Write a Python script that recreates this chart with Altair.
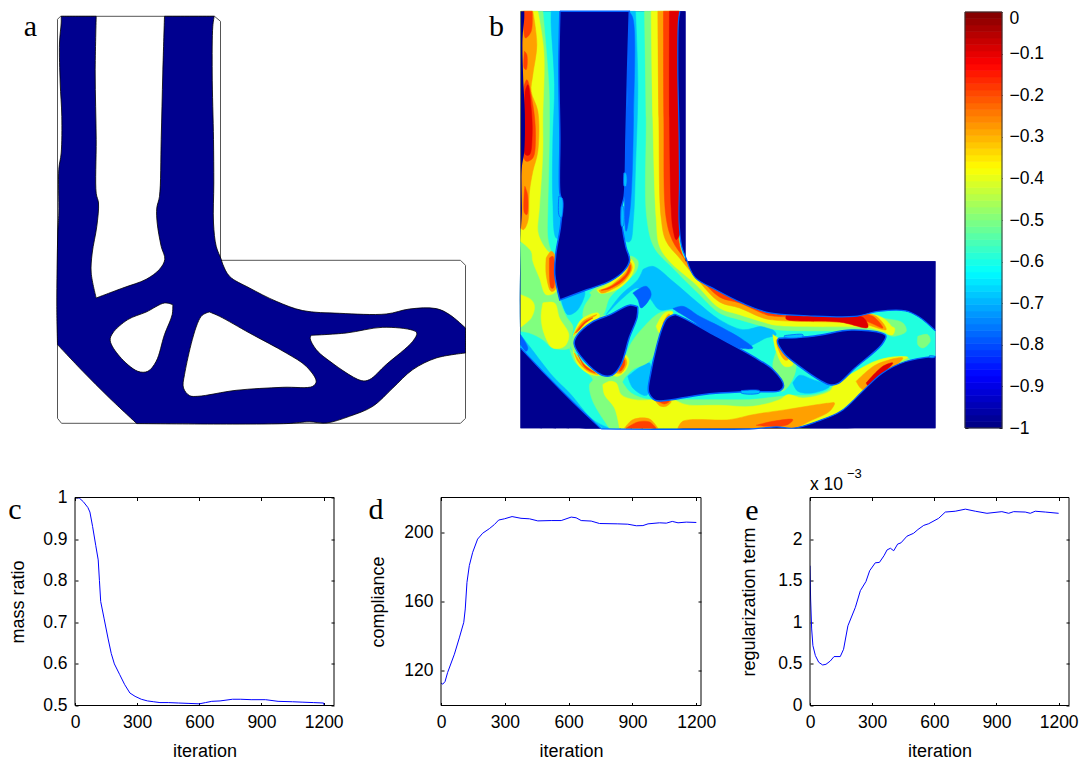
import altair as alt

NAVY = "#00008f"; AQ = "#20ffdf"; LB = "#00bfff"; DB = "#0060ff"; GR = "#80ff7f"
YE = "#efff10"; OR = "#ffa000"; RO = "#ff4000"; RE = "#df0000"
FONT = "Liberation Sans"; SERIF = "Liberation Serif"

# ---------- line panels ----------
ITER_C = [0,20,40,62,72,85,100,112,118,124,140,160,175,190,215,240,265,290,320,350,380,410,450,500,550,600,630,660,700,760,800,850,920,980,1050,1100,1150,1200,1200]
MASS = [1.0,.999,.99,.976,.965,.93,.885,.85,.80,.75,.71,.66,.625,.60,.575,.55,.53,.522,.515,.511,.509,.507,.507,.506,.505,.504,.507,.51,.511,.515,.515,.514,.514,.51,.509,.508,.507,.506,.502]
ITER_D = [0,8,19,31,63,86,107,114,122,133,149,172,196,227,251,271,298,334,376,416,455,518,565,612,635,659,706,745,831,878,918,949,973,1027,1059,1087,1114,1153,1200]
COMPL = [113,112.3,113.8,119,129.6,139,148,155.7,171,180.7,188.4,196,199.4,202,204.4,207,207.7,209,208,207.7,206.5,206.7,206.7,208.7,208.3,206.7,206.4,205,204.8,204.6,203.7,203.8,204.8,205.4,205.2,206.2,205.4,205.8,205.6]
ITER_E = [0,3,8,14,26,42,61,77,98,116,146,162,183,219,243,270,288,315,335,357,372,388,404,423,439,468,500,521,549,573,621,653,701,750,798,854,926,959,983,1039,1063,1087,1136,1200]
REG = [1.68,1.28,.92,.72,.6,.52,.487,.495,.535,.588,.588,.676,.958,1.18,1.38,1.49,1.62,1.715,1.72,1.80,1.87,1.89,1.86,1.94,1.955,2.035,2.07,2.115,2.165,2.185,2.25,2.325,2.335,2.36,2.335,2.31,2.33,2.31,2.33,2.325,2.31,2.335,2.325,2.31]
X_TICKS = [0,300,600,900,1200]

# ---------- panel a outlines, in picture pixels; a third element marks a sharp corner ----------
DOMAIN = [(58,18),(61,15),(215,15),(221,20),(221,259),(461,259),(466,264),(466,417),(461,422),(62,422),(58,417),(58,18)]
A_CHANNEL = [(96.7,15,1),(95.7,71.7),(96.7,138),(96.7,192),(99,201.7),(97.3,225),(92.7,251.7),(91.7,271.7),(96.7,296.7,1),(123.3,286.7),(146.7,278),(160,268),(165.3,258),(161.7,245),(157.7,221.7),(157.3,206.7),(160,195),(161.7,138),(163.3,71.7),(165,15,1)]
A_RIGHT = [(214.7,15,1),(213.3,25),(212.7,71.7),(214,138),(214.3,181.7),(214,221.7),(216.7,245),(221.7,258),(223.3,263),(230,275),(250,286.7),(276.7,300),(303.3,309.3),(340,312),(386.7,312.7),(410,307.7),(436.7,307.3),(450,313.3),(466,326.7,1)]
A_BOTTOM = [(466,351.7,1),(436.7,356.7),(413.3,368.3),(393.3,386.7),(373.3,405),(350,415),(326.7,421.7),(310,420.5),(286.7,422.3),(137.3,422.3,1)]
A_DIAG = [(137.3,422.3,1),(110,396.7),(83.3,370),(58,343.3,1)]
A_LEFT = [(58,343.3,1),(57.3,305),(58.3,231.7),(59.3,211.7),(59.3,168),(61.7,151.7),(62.3,115),(60.7,81.7),(60,41.7),(61.7,21.7),(61.7,15,1)]
HOLE_1 = [(173.3,303.3),(165,301.7),(146.7,310.7),(128.3,318.3),(113.3,331.7),(110.7,339.3),(120,355),(138.3,370),(148.3,370),(156.7,360),(165,333.3),(172.7,313.3)]
HOLE_2 = [(210,310.7),(201.7,315),(185,373.3),(184,386.7),(190,394.3),(198.3,395),(236.7,389),(283.3,386),(313.3,385),(316.7,380),(306.7,365),(286.7,351.7),(250,331.7),(220,315)]
HOLE_3 = [(311.7,334),(346.7,331.7),(383.3,326),(413.3,329),(417.3,331.7),(413.3,340),(386.7,363.3),(370,378.3),(361.7,379.3),(326.7,357.3),(316.7,348.3),(310.7,337.3)]
OUTER = A_LEFT + A_CHANNEL + A_RIGHT + A_BOTTOM + A_DIAG[1:-1]

LIGHT = [
 [(125,-720),(148,-720),(152,-40),(140,-40),(130,-150),(130,-335),(135,-500),(125,-680)],
 [(360,-720),(378,-720),(385,-500),(378,-250),(372,-100),(362,-30),(350,-30),(355,-300),(358,-600)],
 [(400,55),(430,45),(490,90),(560,150),(630,205),(700,235),(760,225),(790,235),(800,250),(770,260),(700,290),(630,265),(560,215),(520,170),(490,172),(450,175),(420,140),(385,110),(340,140),(300,180),(290,190),(335,130),(385,85)],
 [(155,145),(225,120),(205,175),(175,190)],
 [(355,375),(420,335),(412,432),(370,410)],
 [(850,395),(870,372),(910,385),(960,405),(910,425),(865,420)],
 [(33,250),(60,285),(130,375),(180,425),(250,505),(300,531),(280,531),(150,420),(33,300)],
]
DEEP = [
 [(358,-720),(370,-700),(372,-400),(362,-130),(350,-60),(345,-200),(355,-500)],
 [(370,125),(410,105),(425,130),(395,170),(385,145)],
 [(490,172),(520,165),(570,195),(630,225),(700,265),(730,290),(690,290),(620,260),(550,210),(510,185)],
 [(33,250),(55,290),(50,300),(33,280)],
]
GREEN = [
 [(33,-720),(100,-720),(118,-500),(120,-400),(118,-250),(115,-130),(115,-40),(125,0),(140,30),(145,120),(150,145),(170,195),(190,225),(185,262),(180,290),(130,290),(100,265),(60,245),(33,240)],
 [(240,125),(265,105),(345,65),(362,15),(385,28),(380,60),(340,100),(300,140),(280,190),(255,192),(225,205),(220,195),(225,165),(245,130)],
 [(185,262),(215,225),(260,190),(280,190),(300,200),(200,300),(185,290)],
 [(180,290),(240,350),(290,375),(325,375),(340,395),(365,425),(420,445),(540,445),(630,445),(720,445),(815,435),(850,432),(900,432),(950,420),(975,400),(1130,320),(1190,318),(1200,325),(1100,400),(1000,500),(900,531),(300,531),(250,450),(240,400),(250,385),(195,330)],
 [(310,375),(345,320),(365,275),(400,230),(450,185),(490,180),(470,210),(445,280),(420,330),(370,355),(345,380),(335,395)],
 [(405,-720),(510,-720),(515,0),(560,60),(640,105),(780,185),(1060,185),(1120,200),(1180,215),(1190,240),(1150,255),(1125,245),(1060,240),(800,235),(760,225),(690,205),(630,185),(560,120),(490,50),(435,-10),(412,-100),(410,-400)],
 [(1225,255),(1255,250),(1262,270),(1240,290),(1225,280)],
 [(820,260),(860,340),(840,400),(815,420),(790,340)],
]
YELLOW = [
 [(33,-720),(85,-720),(103,-600),(100,-400),(100,-300),(90,-135),(85,-60),(95,-30),(115,0),(135,15),(140,120),(110,130),(90,80),(70,30),(65,0),(33,-30)],
 [(33,130),(65,145),(75,165),(65,200),(33,228)],
 [(100,155),(135,155),(150,200),(178,250),(165,285),(130,290),(105,250),(95,200)],
 [(262,115),(300,95),(350,50),(362,22),(375,40),(365,75),(330,110),(290,125),(270,125)],
 [(190,255),(215,205),(265,185),(270,195),(225,225)],
 [(190,295),(215,330),(270,372),(240,368),(205,340)],
 [(310,372),(345,310),(358,325),(350,355),(325,375)],
 [(440,225),(465,185),(490,183),(465,220),(450,245)],
 [(280,400),(300,390),(320,395),(335,430),(375,445),(440,445),(490,445),(530,460),(630,462),(730,465),(810,445),(835,430),(880,440),(960,420),(975,400),(1030,365),(1110,325),(1195,318),(1130,350),(1060,420),(975,490),(900,527),(900,531),(330,531),(315,470),(285,430)],
 [(790,250),(810,265),(850,340),(825,345),(800,300)],
 [(425,-720),(510,-720),(515,0),(560,60),(640,105),(780,185),(1060,185),(1120,200),(1150,235),(1140,243),(1090,232),(1060,228),(800,222),(760,212),(690,190),(630,170),(560,100),(480,30),(450,-15),(440,-100),(430,-400)],
 [(1130,225),(1155,230),(1150,250),(1130,245)],
]
ORANGE = [
 [(36,-720),(70,-720),(82,-620),(70,-530),(65,-480),(85,-420),(85,-300),(70,-240),(60,-180),(55,-90),(42,-65),(33,-70)],
 [(110,20),(125,0),(135,10),(137,115),(125,120),(110,70)],
 [(268,117),(300,105),(350,60),(362,32),(368,50),(345,90),(300,118),(275,125)],
 [(193,250),(220,210),(262,190),(240,205),(210,230)],
 [(195,305),(220,340),(265,370),(235,360),(205,330)],
 [(320,365),(345,318),(352,335),(335,365)],
 [(460,215),(475,190),(480,188),(465,225)],
 [(437,447),(485,450),(470,465),(450,463)],
 [(345,531),(370,505),(420,503),(445,531)],
 [(505,531),(520,510),(660,505),(730,490),(830,475),(960,455),(975,455),(960,480),(900,510),(860,531)],
 [(445,-720),(510,-720),(515,0),(560,60),(640,105),(780,185),(1050,185),(1100,195),(1130,235),(1060,218),(800,207),(760,200),(690,170),(630,152),(560,80),(510,20),(470,-30),(455,-100),(448,-400)],
 [(1040,390),(1100,340),(1180,320),(1110,380),(1060,415)],
 [(800,265),(815,270),(835,325),(825,325),(805,290)],
]
RED_ORANGE = [
 [(462,-720),(510,-720),(515,0),(560,60),(640,105),(780,185),(1050,187),(1090,195),(1120,230),(1060,207),(800,195),(770,190),(690,155),(630,137),(560,65),(520,15),(490,-30),(470,-100),(463,-400)],
 [(42,-720),(68,-720),(65,-660),(48,-640)],
 [(45,-600),(52,-590),(50,-545),(44,-550)],
 [(42,-490),(52,-515),(70,-440),(78,-350),(70,-280),(50,-270),(42,-285)],
 [(46,-195),(54,-170),(52,-110),(45,-115)],
 [(120,20),(130,15),(132,110),(125,110)],
 [(275,117),(305,105),(350,68),(362,40),(362,58),(340,88),(300,112)],
 [(198,245),(225,212),(250,200),(228,215),(205,240)],
 [(205,310),(225,340),(258,365),(228,350)],
 [(328,360),(345,325),(345,342),(335,358)],
 [(445,450),(480,450),(465,458)],
 [(350,531),(385,512),(420,512),(440,531)],
 [(740,522),(790,510),(850,505),(835,520),(780,525)],
]
RED = [
 [(480,-720),(508,-720),(510,-100),(510,-50),(500,-35),(490,-70),(485,-130),(480,-400)],
 [(830,193),(990,197),(1060,198),(1075,228),(990,212),(830,203)],
 [(47,-480),(55,-500),(65,-430),(68,-350),(60,-290),(48,-290)],
 [(1070,395),(1120,345),(1150,335),(1110,375),(1075,402)],
]
FLECKS = [
 [(148,-165),(158,-160),(160,-120),(155,-100),(148,-110)],
 [(343,-235),(350,-235),(350,-195),(344,-195)],
 [(335,-135),(341,-135),(341,-75),(336,-75)],
 [(825,253),(880,250),(880,256),(825,258)],
 [(695,418),(750,418),(750,425),(695,425)],
 [(1260,313),(1275,315),(1275,318),(1260,318)],
]
B_DOMAIN = [(521,10),(686,10),(686,260),(936,260),(936,427),(521,427),(521,10)]
LETTERS_TOP = [("a",31,26),("b",497,26)]

# ---------- colour bar ----------
def jet(i, n=64):
    v = (i + 0.5) / n
    f = lambda c: max(0.0, min(1.0, 1.5 - abs(4 * v - c)))
    return "#%02x%02x%02x" % tuple(int(round(255 * f(c))) for c in (3, 2, 1))
LEVELS = list(range(64))
BAR = [{"lo": -1 + i / 64, "hi": -1 + (i + 1) / 64, "c": jet(i)} for i in LEVELS]
BAR_TICKS = [0,-.1,-.2,-.3,-.4,-.5,-.6,-.7,-.8,-.9,-1]

TOP_X0, TOP_X1, TOP_Y0, TOP_Y1 = 75.5, 950, 10.7, 434.7
SX = alt.Scale(domain=[TOP_X0, TOP_X1], nice=False, zero=False)
SY = alt.Scale(domain=[TOP_Y0, TOP_Y1], nice=False, zero=False, reverse=True)
SMOOTH = "catmull-rom"

def expand(points, closed=True):
    out = []
    for p in points:
        out += [(p[0], p[1])] * (3 if len(p) > 2 else 1)
    return out + out[:1] if closed else out

def to_b(points):
    return [(521 + (p[0] - 58) * 1.017, 10 + (p[1] - 15) * 1.025) + tuple(p[2:]) for p in points]

def crop(points):
    out = []
    for p in points:
        q = (510 + p[0] / 3, 250 + p[1] / 3)
        out.append(q + (1,) if p[1] in (-720, 531) or p[0] == 33 else q)
    return out

def poly(points, fill, stroke=None, sw=0.0, interp=SMOOTH, closed=True):
    rec = [{"x": x, "y": y, "i": i} for i, (x, y) in enumerate(expand(points, closed))]
    style = dict(fill=fill) if fill else {}
    return alt.Chart(alt.Data(values=rec)).mark_line(
        interpolate=interp, stroke=stroke or fill, strokeWidth=sw, clip=False, **style
    ).encode(
        x=alt.X("x:Q", scale=SX, axis=None),
        y=alt.Y("y:Q", scale=SY, axis=None),
        order="i:Q",
    )

layers = []
# panel a
layers.append(poly(DOMAIN, "#ffffff", "#555555", 1, "linear"))
layers.append(poly(OUTER, NAVY, "#000000", 0.8))
for h in (HOLE_1, HOLE_2, HOLE_3):
    layers.append(poly(h, "#ffffff", "#000000", 0.8))
# panel b
layers.append(poly(B_DOMAIN, NAVY, None, 0, "linear"))
layers.append(poly(to_b(OUTER), AQ))
for group, col, sw in ((LIGHT, LB, .5), (DEEP, DB, .5), (GREEN, GR, .5), (YELLOW, YE, .5),
                       (ORANGE, OR, .5), (RED_ORANGE, RO, .5), (RED, RE, .5)):
    for g in group:
        layers.append(poly(crop(g), col, None, sw))
layers.append(poly(to_b(A_RIGHT) + [(936, 260, 1), (686, 260, 1), (686, 10, 1)], NAVY))
layers.append(poly(to_b(A_BOTTOM) + [(936, 427, 1)], NAVY))
layers.append(poly(to_b(A_DIAG) + [(521, 427, 1)], NAVY))
layers.append(poly(to_b(A_LEFT) + [(521, 10, 1)], NAVY))
for edge in (A_RIGHT, A_BOTTOM, A_DIAG):
    layers.append(poly(to_b(edge), None, DB, 1.2, SMOOTH, False))
for h in (A_CHANNEL, HOLE_1, HOLE_2, HOLE_3):
    layers.append(poly(to_b(h), NAVY, DB, 1.5))
for g in FLECKS:
    layers.append(poly(crop(g), LB, DB, 0.8))
letters = alt.Chart(alt.Data(values=[{"t": t, "x": x, "y": y} for t, x, y in LETTERS_TOP])).mark_text(
    font=SERIF, fontSize=30, align="center", baseline="middle", color="black"
).encode(x=alt.X("x:Q", scale=SX, axis=None), y=alt.Y("y:Q", scale=SY, axis=None), text="t:N")
layers.append(letters)
top_left = alt.layer(*layers).properties(width=TOP_X1 - TOP_X0, height=TOP_Y1 - TOP_Y0)

TICKS = dict(domain=False, grid=False, ticks=True, tickSize=3, tickColor="black", offset=-3)
ONE = alt.Data(values=[{"a": 1}])

def frame(sx, sy, x0, x1, y0, y1, color="black"):
    return alt.Chart(ONE).mark_rect(fill="transparent", stroke=color, strokeWidth=1).encode(
        x=alt.X(datum=x0, scale=sx, axis=None), x2=alt.X2(datum=x1),
        y=alt.Y(datum=y0, scale=sy, axis=None), y2=alt.Y2(datum=y1))

# colour bar
bar_x = alt.Scale(domain=[0, 1], nice=False, zero=False)
bar_y = alt.Scale(domain=[-1, 0], nice=False, zero=False)
bar = alt.Chart(alt.Data(values=BAR)).mark_rect(strokeWidth=0.6).encode(
    x=alt.X(datum=0, scale=bar_x, axis=None), x2=alt.X2(datum=1),
    y=alt.Y("lo:Q", scale=bar_y, title=None, axis=alt.Axis(orient="right", values=BAR_TICKS, format="~g", labelPadding=7,
            labelOffset=alt.expr("datum.value == 0 ? 6 : 0"),
            labelFont=FONT, labelFontSize=17.5, labelColor="black", labelOverlap=False, labelBound=False, labelFlush=False, **TICKS)),
    y2="hi:Q", fill=alt.Fill("c:N", scale=None), stroke=alt.Stroke("c:N", scale=None),
)
bar2 = alt.Chart(alt.Data(values=BAR[:1])).mark_rect(opacity=0).encode(
    x=alt.X(datum=0, scale=bar_x, axis=None), x2=alt.X2(datum=1),
    y=alt.Y("lo:Q", scale=bar_y, title=None, axis=alt.Axis(orient="left", values=BAR_TICKS, labels=False, **TICKS)),
    y2="hi:Q",
)
colorbar = alt.layer(bar, bar2, frame(bar_x, bar_y, 0, 1, -1, 0, "#333333")).resolve_axis(y="independent").properties(width=37, height=416)

def panel(xs, ys, xmax, ydom, yticks, yfmt, ytitle, letter, lx, ly, w=259, tp=15, extras=()):
    rec = [{"x": a, "y": b} for a, b in zip(xs, ys)]
    sx = alt.Scale(domain=[0, xmax], nice=False, zero=False)
    sy = alt.Scale(domain=ydom, nice=False, zero=False)
    line = alt.Chart(alt.Data(values=rec)).mark_line(color="#0000ff", strokeWidth=1, clip=True).encode(
        x=alt.X("x:Q", scale=sx, title="iteration", axis=alt.Axis(values=X_TICKS, format="d", labelPadding=8, titlePadding=11,
                labelFont=FONT, labelFontSize=17.5, labelColor="black", labelOverlap=False, labelBound=False, labelFlush=False,
                titleFont=FONT, titleFontSize=18, titleFontWeight="normal", titleColor="black", **TICKS)),
        y=alt.Y("y:Q", scale=sy, title=ytitle, axis=alt.Axis(values=yticks, format=yfmt, labelPadding=8, titlePadding=tp,
                labelFont=FONT, labelFontSize=17.5, labelColor="black", labelOverlap=False, labelBound=False, labelFlush=False,
                titleFont=FONT, titleFontSize=18, titleFontWeight="normal", titleColor="black", **TICKS)),
        order="x:Q",
    )
    ghost = alt.Chart(alt.Data(values=rec[:2])).mark_line(opacity=0).encode(
        x=alt.X("x:Q", scale=sx, axis=alt.Axis(orient="top", values=X_TICKS, labels=False, title=None, **TICKS)),
        y=alt.Y("y:Q", scale=sy, axis=alt.Axis(orient="right", values=yticks, labels=False, title=None, **TICKS)),
    )
    parts = [line, ghost, frame(sx, sy, 0, xmax, ydom[0], ydom[1])]
    parts.append(alt.Chart(ONE).mark_text(font=SERIF, fontSize=30, align="center", baseline="middle", color="black", text=letter).encode(
        x=alt.value(lx), y=alt.value(ly)))
    for txt, tx, ty, fs in extras:
        parts.append(alt.Chart(ONE).mark_text(font=FONT, fontSize=fs, align="left", baseline="middle", color="black", text=txt).encode(
            x=alt.value(tx), y=alt.value(ty)))
    return alt.layer(*parts).resolve_axis(x="independent", y="independent").properties(width=w, height=208)

pc = panel(ITER_C, MASS, 1250, [.5, 1], [.5,.6,.7,.8,.9,1], "~g", "mass ratio", "c", -60, 12)
pd_ = panel(ITER_D, COMPL, 1222, [100, 220], [120,160,200], "d", "compliance", "d", -65, 12, w=260, tp=16)
pe = panel(ITER_E, REG, 1250, [0, 2.5], [0,.5,1,1.5,2], "~g", "regularization term", "e", -58, 13, tp=19,
           extras=[("x 10", 0, -13, 17.5), ("\u22123", 37, -24, 13)])

row1 = alt.hconcat(top_left, colorbar, spacing=14)
row2 = alt.hconcat(pc, pd_, pe, spacing=24)
chart = alt.vconcat(row1, row2, spacing=30.5).properties(padding=0).configure_view(stroke=None)
chart.save("out.html", embed_options={"renderer": "svg", "actions": False})
